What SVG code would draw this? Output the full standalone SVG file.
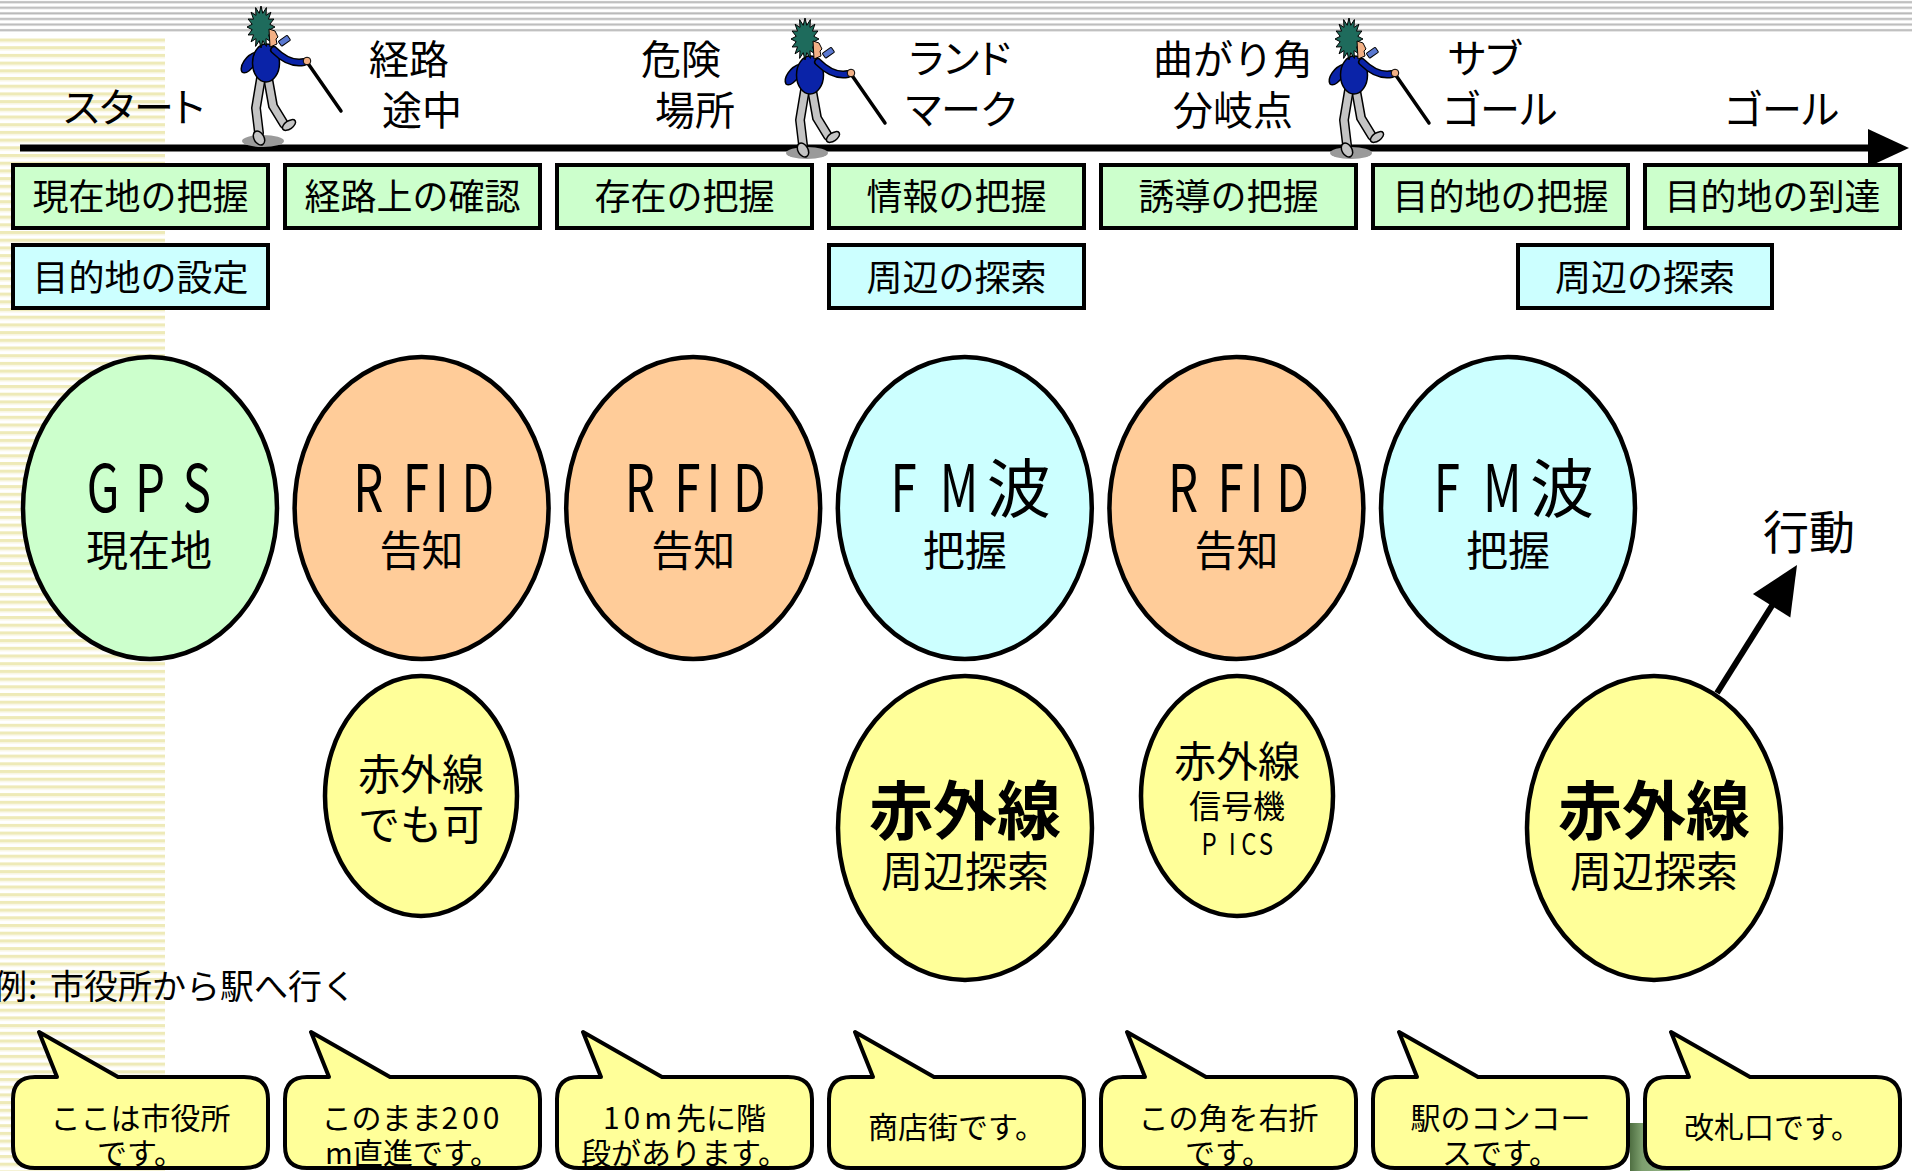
<svg xmlns="http://www.w3.org/2000/svg" xmlns:xlink="http://www.w3.org/1999/xlink" width="1912" height="1171" viewBox="0 0 1912 1171">
  <style>
    text { font-family: "Noto Sans CJK JP", "Noto Sans", sans-serif; fill: #000; }
    .lbl { font-size: 40px; text-anchor: middle; }
    .lbl-start { font-size: 40px; text-anchor: start; }
    .kana { font-feature-settings: "palt"; }
    .boxtxt { font-size: 36px; text-anchor: middle; }
    .green { fill: #CCFFCC; stroke: #000; stroke-width: 4; }
    .cyan { fill: #CCFFFF; stroke: #000; stroke-width: 4; }
    .orange { fill: #FFCC99; stroke: #000; stroke-width: 4.5; }
    .lightblue { fill: #CCFFFF; stroke: #000; stroke-width: 4.5; }
    .lime { fill: #CCFFCC; stroke: #000; stroke-width: 4.5; }
    .yellow { fill: #FFFF99; stroke: #000; stroke-width: 4.5; }
    .latin { font-size: 66px; text-anchor: middle; }
    .kanji-big { font-size: 64px; text-anchor: middle; }
    .sub { font-size: 42px; text-anchor: middle; }
    .bold { font-size: 64px; font-weight: 700; text-anchor: middle; }
    .bub { fill: #FFFF99; stroke: #000; stroke-width: 4; stroke-linejoin: round; }
    .btxt { font-size: 30px; text-anchor: middle; }
    .num { letter-spacing: 4px; }
  </style>
  <defs>
    <pattern id="grayStripes" width="16" height="5.6" patternUnits="userSpaceOnUse">
      <rect width="16" height="5.6" fill="#ffffff"/>
      <rect y="0.9" width="16" height="2.6" fill="#d4d4d4"/>
      <rect y="1.5" width="16" height="1.3" fill="#b9b9b9"/>
    </pattern>
    <pattern id="yellowStripes" width="16" height="7.7" patternUnits="userSpaceOnUse">
      <rect width="16" height="7.7" fill="#ffffff"/>
      <rect y="0" width="16" height="3.2" fill="#EEEAB8"/>
      <rect y="3.2" width="16" height="1.2" fill="#F8F6E2"/>
    </pattern>
    <linearGradient id="deco" x1="0" y1="0" x2="1" y2="0">
      <stop offset="0" stop-color="#4f6f42"/>
      <stop offset="0.2" stop-color="#7d9f6e"/>
      <stop offset="1" stop-color="#a9c79a"/>
    </linearGradient>
    <!-- walking figure with a white cane -->
    <g id="walker">
      <ellipse cx="263" cy="141" rx="21" ry="6" fill="#9a9a9a"/>
      <path d="M256,52 C246,55 239,66 242,72 C246,75 252,69 257,62 Z" fill="#0a23a8" stroke="#000" stroke-width="1.5"/>
      <path d="M268,78 L273,106 L284,124" fill="none" stroke="#000" stroke-width="10" stroke-linecap="round" stroke-linejoin="round"/>
      <path d="M268,78 L273,106 L284,124" fill="none" stroke="#c4c4c4" stroke-width="7" stroke-linecap="round" stroke-linejoin="round"/>
      <path d="M261,78 L256,108 L259,133" fill="none" stroke="#000" stroke-width="10" stroke-linecap="round" stroke-linejoin="round"/>
      <path d="M261,78 L256,108 L259,133" fill="none" stroke="#c4c4c4" stroke-width="7" stroke-linecap="round" stroke-linejoin="round"/>
      <ellipse cx="289" cy="125" rx="7.5" ry="4" transform="rotate(-35 289 125)" fill="#c4c4c4" stroke="#000" stroke-width="1.5"/>
      <ellipse cx="259" cy="138" rx="5" ry="7.5" transform="rotate(-30 259 138)" fill="#c4c4c4" stroke="#000" stroke-width="1.5"/>
      <ellipse cx="266" cy="63" rx="13.5" ry="19" fill="#0a23a8" stroke="#000" stroke-width="1.5"/>
      <polygon fill="#1e6b5c" stroke="#000" stroke-width="1" points="261,6 262.8,13.3 266.4,7.6 266,15.4 270.9,12.2 268.5,19.2 273.9,19 269.8,24.3 275,27 269.8,29.7 273.9,35 268.5,34.8 270.9,41.8 266,38.6 266.4,46.4 262.8,40.7 261,48 259.2,40.7 255.6,46.4 256,38.6 251.1,41.8 253.5,34.8 248.1,35 252.2,29.7 247,27 252.2,24.3 248.1,19 253.5,19.2 251.1,12.2 256,15.4 255.6,7.6 259.2,13.3"/>
      <path d="M269,29 L275,31 L278,37 L276,39 L277,44 L270,47 Z" fill="#f2b085" stroke="#000" stroke-width="1"/>
      <rect x="279" y="38" width="11" height="6" rx="1" transform="rotate(-35 284 41)" fill="#5a78d0" stroke="#000" stroke-width="1"/>
      <path d="M274,50 Q289,65 304,62" fill="none" stroke="#000" stroke-width="8" stroke-linecap="round"/>
      <path d="M274,50 Q289,65 304,62" fill="none" stroke="#0a23a8" stroke-width="5" stroke-linecap="round"/>
      <line x1="307" y1="62" x2="341" y2="111" stroke="#000" stroke-width="3.5" stroke-linecap="round"/>
      <circle cx="307" cy="61" r="3.8" fill="#f2b085" stroke="#000" stroke-width="1"/>
    </g>
    <!-- callout outline: rounded body with a tail pointing up-left -->
    <path id="bubble" d="M24,1077 L46,1077 L28,1032 L107,1077 L233,1077 Q257,1077 257,1099 L257,1146 Q257,1168 233,1168 L24,1168 Q2,1168 2,1146 L2,1099 Q2,1077 24,1077 Z"/>
  </defs>

  <!-- page background -->
  <rect width="1912" height="1171" fill="#ffffff"/>
  <rect x="0" y="0" width="1912" height="34" fill="url(#grayStripes)"/>
  <rect x="0" y="38" width="165" height="1133" fill="url(#yellowStripes)"/>
  <rect x="1630" y="1123" width="60" height="48" fill="url(#deco)"/>

  <!-- connectors -->
  <g id="connectors">
    <g id="timeline">
      <line x1="20" y1="148" x2="1872" y2="148" stroke="#000" stroke-width="7"/>
      <polygon points="1868,129 1909,148 1868,167" fill="#000"/>
    </g>
    <g id="action-arrow">
      <line x1="1717" y1="693" x2="1778" y2="596" stroke="#000" stroke-width="6"/>
      <polygon points="1797,565 1790.3,617.4 1752.9,594" fill="#000"/>
    </g>
  </g>

  <!-- walkers on the route -->
  <g id="walkers">
    <use xlink:href="#walker" href="#walker"/>
    <use xlink:href="#walker" href="#walker" transform="translate(544,12)"/>
    <use xlink:href="#walker" href="#walker" transform="translate(1088,12)"/>
  </g>

  <!-- route stage labels -->
  <g id="stage-start"><text class="lbl kana" x="134" y="122">スタート</text></g>
  <g id="stage-route"><text class="lbl" x="409" y="74">経路</text><text class="lbl" x="422" y="125">途中</text></g>
  <g id="stage-danger"><text class="lbl" x="681" y="74">危険</text><text class="lbl" x="695" y="125">場所</text></g>
  <g id="stage-landmark"><text class="lbl kana" x="960" y="73">ランド</text><text class="lbl kana" x="961" y="124">マーク</text></g>
  <g id="stage-corner"><text class="lbl" x="1233" y="74">曲がり角</text><text class="lbl" x="1233" y="125">分岐点</text></g>
  <g id="stage-subgoal"><text class="lbl-start kana" x="1448" y="73">サブ</text><text class="lbl-start kana" x="1443" y="124">ゴール</text></g>
  <g id="stage-goal"><text class="lbl kana" x="1782" y="124">ゴール</text></g>

  <!-- task boxes -->
  <g id="task-1"><rect class="green" x="13" y="165" width="255" height="63"/><text class="boxtxt" x="140.5" y="210">現在地の把握</text></g>
  <g id="task-2"><rect class="green" x="285" y="165" width="255" height="63"/><text class="boxtxt" x="412.5" y="210">経路上の確認</text></g>
  <g id="task-3"><rect class="green" x="557" y="165" width="255" height="63"/><text class="boxtxt" x="684.5" y="210">存在の把握</text></g>
  <g id="task-4"><rect class="green" x="829" y="165" width="255" height="63"/><text class="boxtxt" x="956.5" y="210">情報の把握</text></g>
  <g id="task-5"><rect class="green" x="1101" y="165" width="255" height="63"/><text class="boxtxt" x="1228.5" y="210">誘導の把握</text></g>
  <g id="task-6"><rect class="green" x="1373" y="165" width="255" height="63"/><text class="boxtxt" x="1500.5" y="210">目的地の把握</text></g>
  <g id="task-7"><rect class="green" x="1645" y="165" width="255" height="63"/><text class="boxtxt" x="1772.5" y="210">目的地の到達</text></g>

  <g id="task-set-destination"><rect class="cyan" x="13" y="245" width="255" height="63"/><text class="boxtxt" x="140.5" y="291">目的地の設定</text></g>
  <g id="task-search-1"><rect class="cyan" x="829" y="245" width="255" height="63"/><text class="boxtxt" x="956.5" y="291">周辺の探索</text></g>
  <g id="task-search-2"><rect class="cyan" x="1518" y="245" width="254" height="63"/><text class="boxtxt" x="1645" y="291">周辺の探索</text></g>

  <!-- positioning technologies (Latin letters drawn in a condensed, spaced style) -->
  <g id="tech-gps">
    <ellipse class="lime" cx="150" cy="508" rx="127" ry="151"/>
    <text class="latin" transform="translate(150,512) scale(0.72,1)"><tspan x="-65">G</tspan><tspan x="0">P</tspan><tspan x="65">S</tspan></text>
    <text class="sub" x="149" y="566">現在地</text>
  </g>
  <g id="tech-rfid-1">
    <ellipse class="orange" cx="421.6" cy="508" rx="127" ry="151"/>
    <text class="latin" transform="translate(421.6,512) scale(0.72,1)"><tspan x="-74">R</tspan><tspan x="-8">F</tspan><tspan x="28">I</tspan><tspan x="78">D</tspan></text>
    <text class="sub" x="421.6" y="566">告知</text>
  </g>
  <g id="tech-rfid-2">
    <ellipse class="orange" cx="693.2" cy="508" rx="127" ry="151"/>
    <text class="latin" transform="translate(693.2,512) scale(0.72,1)"><tspan x="-74">R</tspan><tspan x="-8">F</tspan><tspan x="28">I</tspan><tspan x="78">D</tspan></text>
    <text class="sub" x="693.2" y="566">告知</text>
  </g>
  <g id="tech-fm-1">
    <ellipse class="lightblue" cx="964.8" cy="508" rx="127" ry="151"/>
    <text class="latin" transform="translate(964.8,512) scale(0.72,1)"><tspan x="-85">F</tspan><tspan x="-8">M</tspan></text>
    <text class="kanji-big" x="1018.8" y="512">波</text>
    <text class="sub" x="964.8" y="566">把握</text>
  </g>
  <g id="tech-rfid-3">
    <ellipse class="orange" cx="1236.4" cy="508" rx="127" ry="151"/>
    <text class="latin" transform="translate(1236.4,512) scale(0.72,1)"><tspan x="-74">R</tspan><tspan x="-8">F</tspan><tspan x="28">I</tspan><tspan x="78">D</tspan></text>
    <text class="sub" x="1236.4" y="566">告知</text>
  </g>
  <g id="tech-fm-2">
    <ellipse class="lightblue" cx="1508" cy="508" rx="127" ry="151"/>
    <text class="latin" transform="translate(1508,512) scale(0.72,1)"><tspan x="-85">F</tspan><tspan x="-8">M</tspan></text>
    <text class="kanji-big" x="1562" y="512">波</text>
    <text class="sub" x="1508" y="566">把握</text>
  </g>

  <!-- infrared options -->
  <g id="ir-optional">
    <ellipse class="yellow" cx="421" cy="796" rx="96" ry="120"/>
    <text class="sub" x="421" y="790">赤外線</text>
    <text class="sub" x="421" y="840">でも可</text>
  </g>
  <g id="ir-search-1">
    <ellipse class="yellow" cx="965" cy="828" rx="127" ry="152"/>
    <text class="bold" x="965" y="834">赤外線</text>
    <text class="sub" x="965" y="887">周辺探索</text>
  </g>
  <g id="ir-signal">
    <ellipse class="yellow" cx="1237" cy="796" rx="96" ry="120"/>
    <text class="sub" x="1237" y="777">赤外線</text>
    <text x="1237" y="818" font-size="32" text-anchor="middle">信号機</text>
    <text font-size="30" text-anchor="middle" transform="translate(1237,855) scale(0.8,1)"><tspan x="-35">P</tspan><tspan x="-6">I</tspan><tspan x="15">C</tspan><tspan x="36">S</tspan></text>
  </g>
  <g id="ir-search-2">
    <ellipse class="yellow" cx="1654" cy="828" rx="127" ry="152"/>
    <text class="bold" x="1654" y="834">赤外線</text>
    <text class="sub" x="1654" y="887">周辺探索</text>
  </g>

  <g id="action-label"><text x="1809" y="549" font-size="46" text-anchor="middle">行動</text></g>

  <g id="example-caption">
    <text font-size="34" y="999"><tspan x="-7">例</tspan><tspan x="28">:</tspan><tspan x="50">市役所から駅へ行く</tspan></text>
  </g>

  <!-- spoken guidance callouts -->
  <g id="msg-1"><use xlink:href="#bubble" href="#bubble" class="bub" x="11"/>
    <text class="btxt" x="140.5" y="1129">ここは市役所</text><text class="btxt" x="140.5" y="1164">です。</text></g>
  <g id="msg-2"><use xlink:href="#bubble" href="#bubble" class="bub" x="283"/>
    <text class="btxt" x="412.5" y="1129">このまま<tspan class="num">200</tspan></text><text class="btxt" x="412.5" y="1164">m直進です。</text></g>
  <g id="msg-3"><use xlink:href="#bubble" href="#bubble" class="bub" x="555"/>
    <text class="btxt" x="684.5" y="1129"><tspan class="num">10m</tspan>先に階</text><text class="btxt" x="684.5" y="1164">段があります。</text></g>
  <g id="msg-4"><use xlink:href="#bubble" href="#bubble" class="bub" x="827"/>
    <text class="btxt" x="956.5" y="1138">商店街です。</text></g>
  <g id="msg-5"><use xlink:href="#bubble" href="#bubble" class="bub" x="1099"/>
    <text class="btxt" x="1228.5" y="1129">この角を右折</text><text class="btxt" x="1228.5" y="1164">です。</text></g>
  <g id="msg-6"><use xlink:href="#bubble" href="#bubble" class="bub" x="1371"/>
    <text class="btxt" x="1500.5" y="1129">駅のコンコー</text><text class="btxt" x="1500.5" y="1164">スです。</text></g>
  <g id="msg-7"><use xlink:href="#bubble" href="#bubble" class="bub" x="1643"/>
    <text class="btxt" x="1772.5" y="1138">改札口です。</text></g>
</svg>
